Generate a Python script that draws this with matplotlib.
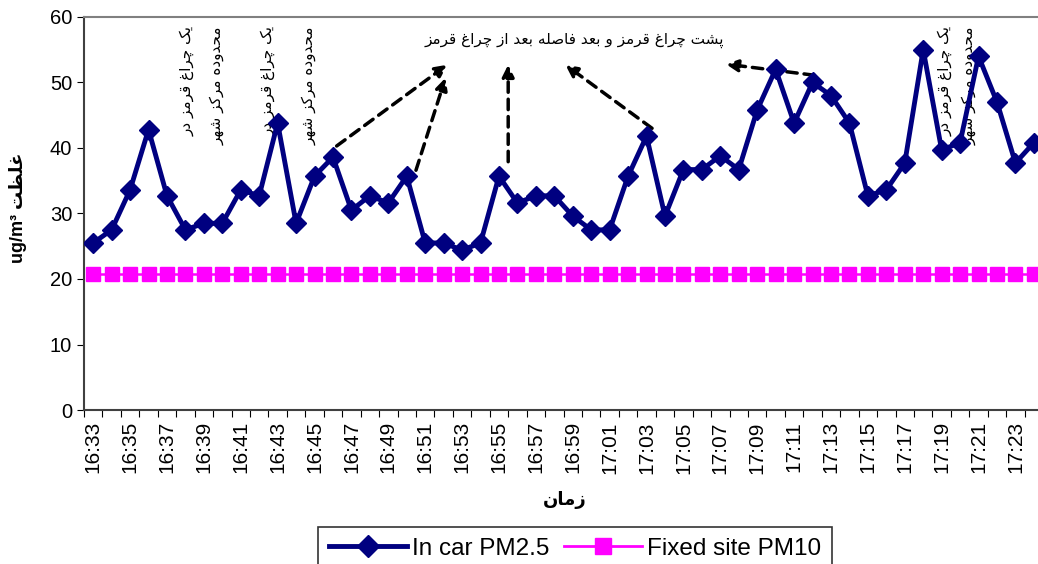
import numpy as np
import matplotlib.pyplot as plt
from matplotlib.lines import Line2D

# --- data ---
times = ["16:33", "16:34", "16:35", "16:36", "16:37", "16:38", "16:39", "16:40",
         "16:41", "16:42", "16:43", "16:44", "16:45", "16:46", "16:47", "16:48",
         "16:49", "16:50", "16:51", "16:52", "16:53", "16:54", "16:55", "16:56",
         "16:57", "16:58", "16:59", "17:00", "17:01", "17:02", "17:03", "17:04",
         "17:05", "17:06", "17:07", "17:08", "17:09", "17:10", "17:11", "17:12",
         "17:13", "17:14", "17:15", "17:16", "17:17", "17:18", "17:19", "17:20",
         "17:21", "17:22", "17:23", "17:24"]
in_car = [25.5, 27.5, 33.6, 42.8, 32.7, 27.5, 28.5, 28.5, 33.6, 32.7,
          43.8, 28.5, 35.7, 38.6, 30.5, 32.7, 31.6, 35.7, 25.5, 25.5,
          24.4, 25.5, 35.7, 31.6, 32.7, 32.7, 29.6, 27.5, 27.5, 35.7,
          41.8, 29.6, 36.7, 36.7, 38.8, 36.7, 45.8, 52.0, 43.8, 50.0,
          48.0, 43.8, 32.7, 33.6, 37.7, 55.0, 39.7, 40.8, 54.0, 47.0,
          37.7, 40.8]
fixed_site = [20.8] * len(times)

title_txt = "پشت چراغ قرمز و بعد فاصله بعد از چراغ قرمز"
note1 = "یک چراغ قرمز در"
note2 = "محدوده مرکز شهر"
xlab = "زمان"
ylab = "غلظت"

# minimal persian shaping: isolated, final, initial, medial
FORMS = {
    'ا': ('\uFE8D', '\uFE8E', None, None),
    'ب': ('\uFE8F', '\uFE90', '\uFE91', '\uFE92'),
    'پ': ('\uFB56', '\uFB57', '\uFB58', '\uFB59'),
    'ت': ('\uFE95', '\uFE96', '\uFE97', '\uFE98'),
    'چ': ('\uFB7A', '\uFB7B', '\uFB7C', '\uFB7D'),
    'ح': ('\uFEA1', '\uFEA2', '\uFEA3', '\uFEA4'),
    'د': ('\uFEA9', '\uFEAA', None, None),
    'ر': ('\uFEAD', '\uFEAE', None, None),
    'ز': ('\uFEAF', '\uFEB0', None, None),
    'ش': ('\uFEB5', '\uFEB6', '\uFEB7', '\uFEB8'),
    'ص': ('\uFEB9', '\uFEBA', '\uFEBB', '\uFEBC'),
    'ظ': ('\uFEC5', '\uFEC6', '\uFEC7', '\uFEC8'),
    'ع': ('\uFEC9', '\uFECA', '\uFECB', '\uFECC'),
    'غ': ('\uFECD', '\uFECE', '\uFECF', '\uFED0'),
    'ف': ('\uFED1', '\uFED2', '\uFED3', '\uFED4'),
    'ق': ('\uFED5', '\uFED6', '\uFED7', '\uFED8'),
    'ک': ('\uFB8E', '\uFB8F', '\uFB90', '\uFB91'),
    'ل': ('\uFEDD', '\uFEDE', '\uFEDF', '\uFEE0'),
    'م': ('\uFEE1', '\uFEE2', '\uFEE3', '\uFEE4'),
    'ن': ('\uFEE5', '\uFEE6', '\uFEE7', '\uFEE8'),
    'ه': ('\uFEE9', '\uFEEA', '\uFEEB', '\uFEEC'),
    'و': ('\uFEED', '\uFEEE', None, None),
    'ی': ('\uFBFC', '\uFBFD', '\uFBFE', '\uFBFF'),
}


def fa(s):
    out = []
    for i, c in enumerate(s):
        if c not in FORMS:
            out.append(c)
            continue
        p = s[i - 1] if i > 0 else ''
        n = s[i + 1] if i + 1 < len(s) else ''
        pj = p in FORMS and FORMS[p][2] is not None
        nj = n in FORMS and FORMS[c][2] is not None
        f = FORMS[c]
        if pj and nj:
            out.append(f[3])
        elif pj:
            out.append(f[1])
        elif nj:
            out.append(f[2])
        else:
            out.append(f[0])
    return ''.join(out)[::-1]


navy = '#000080'
magenta = '#FF00FF'
plt.rcParams['font.family'] = ['Liberation Sans', 'DejaVu Sans']

fig = plt.figure(figsize=(10.38, 5.64), dpi=100)
ax = fig.add_axes([0.0809, 0.273, 0.924, 0.697])

x = np.arange(len(times))
ax.plot(x, fixed_site, color=magenta, lw=1.8, marker='s', ms=10.5,
        mec=magenta, mfc=magenta, zorder=3)
ax.plot(x, in_car, color=navy, lw=3.5, marker='D', ms=10,
        mec=navy, mfc=navy, zorder=4)

ax.set_xlim(-0.5, len(times) - 0.5)
ax.set_ylim(0, 60)
ax.set_yticks(np.arange(0, 61, 10))
ax.tick_params(axis='y', labelsize=14.5, length=5, direction='out')

ax.set_xticks(np.arange(len(times) + 1) - 0.5)
ax.set_xticklabels([])
ax.set_xticks(x[::2], minor=True)
ax.set_xticklabels(times[::2], minor=True, rotation=90, fontsize=15)
ax.tick_params(axis='x', which='major', length=5, direction='out')
ax.tick_params(axis='x', which='minor', length=0, pad=8)

for s in ['left', 'bottom']:
    ax.spines[s].set_color('#404040')
    ax.spines[s].set_linewidth(1.5)
ax.spines['top'].set_color('#808080')
ax.spines['top'].set_linewidth(1.5)
ax.spines['right'].set_visible(False)

# annotations
afont = dict(family=['DejaVu Sans'], color='black')
ax.text(26.1, 56.4, fa(title_txt), ha='center', va='center', fontsize=11, **afont)
for xi, txt in [(5.1, note1), (6.7, note2), (9.5, note1), (11.7, note2),
                (46.2, note1), (47.5, note2)]:
    ax.text(xi, 58.6, fa(txt), rotation=90, ha='center', va='top',
            fontsize=11, **afont)

arrows = [((13.2, 40.3), (19.2, 52.7)),
          ((17.5, 36.6), (19.1, 50.7)),
          ((22.5, 37.9), (22.5, 52.7)),
          ((30.3, 43.0), (25.6, 52.7)),
          ((39.1, 51.1), (34.3, 52.8))]
for tail, head in arrows:
    ax.annotate('', xy=head, xytext=tail,
                arrowprops=dict(arrowstyle='-|>,head_length=0.7,head_width=0.35',
                                color='black', lw=2.5, ls=(0, (3, 2)),
                                shrinkA=0, shrinkB=0))

fig.text(18 / 1038, 1 - 208 / 564, 'ug/m³ ' + fa(ylab), rotation=90,
         ha='center', va='center', fontsize=13, fontweight='bold')
fig.text(565 / 1038, 1 - 500 / 564, fa(xlab), ha='center', va='center',
         fontsize=13, fontweight='bold', family=['DejaVu Sans'])

handles = [Line2D([], [], color=navy, lw=3.5, marker='D', ms=11),
           Line2D([], [], color=magenta, lw=2, marker='s', ms=11)]
leg = fig.legend(handles, ['In car PM2.5', 'Fixed site PM10'],
                 loc='upper center', bbox_to_anchor=(0.554, 0.066), ncol=2,
                 fontsize=17.5, frameon=True, fancybox=False, edgecolor='black',
                 handlelength=3.2, columnspacing=0.6, handletextpad=0.2,
                 borderpad=0.45, borderaxespad=0)
leg.get_frame().set_linewidth(1.2)

fig.savefig('out.png', dpi=100)
